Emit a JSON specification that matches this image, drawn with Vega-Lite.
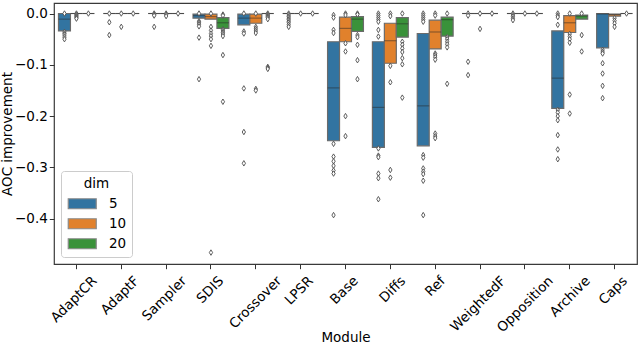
{
  "$schema": "https://vega.github.io/schema/vega-lite/v6.json",
  "width": 583,
  "height": 261,
  "autosize": {"type": "none"},
  "padding": {"left": 54, "top": 3, "right": 3, "bottom": 80},
  "background": "white",
  "config": {
    "font": "DejaVu Sans",
    "view": {"stroke": "#3a3a3a", "strokeWidth": 1.2},
    "axis": {
      "labelFont": "DejaVu Sans", "titleFont": "DejaVu Sans",
      "labelFontSize": 13.5, "titleFontSize": 13.5,
      "labelColor": "#000000", "titleColor": "#000000", "titleFontWeight": "normal",
      "grid": false, "domain": false, "tickColor": "#333333", "tickSize": 4.7, "tickWidth": 1, "labelPadding": 2
    },
    "legend": {
      "orient": "bottom-left", "offset": 7,
      "titleFont": "DejaVu Sans", "labelFont": "DejaVu Sans",
      "titleFontSize": 13.5, "labelFontSize": 13.5, "titleFontWeight": "normal",
      "titleColor": "#000000", "labelColor": "#000000",
      "titleAnchor": "middle", "titlePadding": 7, "padding": 5.5,
      "strokeColor": "#cccccc", "fillColor": "rgba(255,255,255,0.8)", "cornerRadius": 3,
      "symbolType": "M-1,-1H4.6V1H-1Z", "symbolSize": 100,
      "symbolStrokeColor": "#8a8a8a", "symbolStrokeWidth": 1.2,
      "labelOffset": 29, "rowPadding": 4
    }
  },
  "datasets": {
    "boxes": [
      {"module": "AdaptCR", "dim": "5", "upper": 0, "median": -0.011, "lower": -0.034},
      {"module": "AdaptCR", "dim": "10", "upper": 0, "median": 0, "lower": 0},
      {"module": "AdaptCR", "dim": "20", "upper": 0, "median": 0, "lower": 0},
      {"module": "AdaptF", "dim": "5", "upper": 0, "median": 0, "lower": 0},
      {"module": "AdaptF", "dim": "10", "upper": 0, "median": 0, "lower": 0},
      {"module": "AdaptF", "dim": "20", "upper": 0, "median": 0, "lower": 0},
      {"module": "Sampler", "dim": "5", "upper": 0, "median": 0, "lower": 0},
      {"module": "Sampler", "dim": "10", "upper": 0, "median": 0, "lower": 0},
      {"module": "Sampler", "dim": "20", "upper": 0, "median": 0, "lower": 0},
      {"module": "SDIS", "dim": "5", "upper": -0.001, "median": -0.004, "lower": -0.009},
      {"module": "SDIS", "dim": "10", "upper": -0.001, "median": -0.006, "lower": -0.011},
      {"module": "SDIS", "dim": "20", "upper": -0.008, "median": -0.018, "lower": -0.029},
      {"module": "Crossover", "dim": "5", "upper": -0.001, "median": -0.009, "lower": -0.022},
      {"module": "Crossover", "dim": "10", "upper": -0.001, "median": -0.009, "lower": -0.019},
      {"module": "Crossover", "dim": "20", "upper": 0, "median": 0, "lower": 0},
      {"module": "LPSR", "dim": "5", "upper": 0, "median": 0, "lower": 0},
      {"module": "LPSR", "dim": "10", "upper": 0, "median": 0, "lower": 0},
      {"module": "LPSR", "dim": "20", "upper": 0, "median": 0, "lower": 0},
      {"module": "Base", "dim": "5", "upper": -0.055, "median": -0.145, "lower": -0.248},
      {"module": "Base", "dim": "10", "upper": -0.007, "median": -0.029, "lower": -0.055},
      {"module": "Base", "dim": "20", "upper": -0.006, "median": -0.011, "lower": -0.035},
      {"module": "Diffs", "dim": "5", "upper": -0.055, "median": -0.183, "lower": -0.261},
      {"module": "Diffs", "dim": "10", "upper": -0.019, "median": -0.053, "lower": -0.097},
      {"module": "Diffs", "dim": "20", "upper": -0.008, "median": -0.020, "lower": -0.046},
      {"module": "Ref", "dim": "5", "upper": -0.039, "median": -0.180, "lower": -0.258},
      {"module": "Ref", "dim": "10", "upper": -0.013, "median": -0.036, "lower": -0.069},
      {"module": "Ref", "dim": "20", "upper": -0.007, "median": -0.012, "lower": -0.044},
      {"module": "WeightedF", "dim": "5", "upper": 0, "median": 0, "lower": 0},
      {"module": "WeightedF", "dim": "10", "upper": 0, "median": 0, "lower": 0},
      {"module": "WeightedF", "dim": "20", "upper": 0, "median": 0, "lower": 0},
      {"module": "Opposition", "dim": "5", "upper": 0, "median": 0, "lower": 0},
      {"module": "Opposition", "dim": "10", "upper": 0, "median": 0, "lower": 0},
      {"module": "Opposition", "dim": "20", "upper": 0, "median": 0, "lower": 0},
      {"module": "Archive", "dim": "5", "upper": -0.034, "median": -0.126, "lower": -0.185},
      {"module": "Archive", "dim": "10", "upper": -0.004, "median": -0.018, "lower": -0.037},
      {"module": "Archive", "dim": "20", "upper": -0.003, "median": -0.005, "lower": -0.011},
      {"module": "Caps", "dim": "5", "upper": 0, "median": -0.001, "lower": -0.067},
      {"module": "Caps", "dim": "10", "upper": -0.001, "median": -0.002, "lower": -0.005},
      {"module": "Caps", "dim": "20", "upper": 0, "median": 0, "lower": 0}
    ],
    "outliers": [
      {"module": "AdaptCR", "dim": "5", "value": 0}, {"module": "AdaptCR", "dim": "5", "value": -0.036}, {"module": "AdaptCR", "dim": "5", "value": -0.039}, {"module": "AdaptCR", "dim": "5", "value": -0.042}, {"module": "AdaptCR", "dim": "5", "value": -0.046}, {"module": "AdaptCR", "dim": "5", "value": -0.050},
      {"module": "AdaptCR", "dim": "10", "value": 0}, {"module": "AdaptCR", "dim": "10", "value": -0.002}, {"module": "AdaptCR", "dim": "10", "value": -0.004}, {"module": "AdaptCR", "dim": "10", "value": -0.006}, {"module": "AdaptCR", "dim": "10", "value": -0.008}, {"module": "AdaptCR", "dim": "10", "value": -0.010},
      {"module": "AdaptCR", "dim": "20", "value": 0},
      {"module": "AdaptF", "dim": "5", "value": 0}, {"module": "AdaptF", "dim": "5", "value": -0.017}, {"module": "AdaptF", "dim": "5", "value": -0.042},
      {"module": "AdaptF", "dim": "10", "value": 0}, {"module": "AdaptF", "dim": "10", "value": -0.026},
      {"module": "AdaptF", "dim": "20", "value": 0},
      {"module": "Sampler", "dim": "5", "value": 0}, {"module": "Sampler", "dim": "5", "value": -0.002}, {"module": "Sampler", "dim": "5", "value": -0.004}, {"module": "Sampler", "dim": "5", "value": -0.026},
      {"module": "Sampler", "dim": "10", "value": 0}, {"module": "Sampler", "dim": "10", "value": -0.002}, {"module": "Sampler", "dim": "10", "value": -0.005},
      {"module": "Sampler", "dim": "20", "value": 0},
      {"module": "SDIS", "dim": "5", "value": 0}, {"module": "SDIS", "dim": "5", "value": -0.015}, {"module": "SDIS", "dim": "5", "value": -0.018}, {"module": "SDIS", "dim": "5", "value": -0.021}, {"module": "SDIS", "dim": "5", "value": -0.025}, {"module": "SDIS", "dim": "5", "value": -0.047}, {"module": "SDIS", "dim": "5", "value": -0.128},
      {"module": "SDIS", "dim": "10", "value": 0}, {"module": "SDIS", "dim": "10", "value": -0.026}, {"module": "SDIS", "dim": "10", "value": -0.033}, {"module": "SDIS", "dim": "10", "value": -0.039}, {"module": "SDIS", "dim": "10", "value": -0.044}, {"module": "SDIS", "dim": "10", "value": -0.050}, {"module": "SDIS", "dim": "10", "value": -0.063}, {"module": "SDIS", "dim": "10", "value": -0.466},
      {"module": "SDIS", "dim": "20", "value": -0.002}, {"module": "SDIS", "dim": "20", "value": -0.004}, {"module": "SDIS", "dim": "20", "value": -0.031}, {"module": "SDIS", "dim": "20", "value": -0.034}, {"module": "SDIS", "dim": "20", "value": -0.037}, {"module": "SDIS", "dim": "20", "value": -0.040}, {"module": "SDIS", "dim": "20", "value": -0.044}, {"module": "SDIS", "dim": "20", "value": -0.081}, {"module": "SDIS", "dim": "20", "value": -0.172},
      {"module": "Crossover", "dim": "5", "value": 0}, {"module": "Crossover", "dim": "5", "value": -0.035}, {"module": "Crossover", "dim": "5", "value": -0.039}, {"module": "Crossover", "dim": "5", "value": -0.146}, {"module": "Crossover", "dim": "5", "value": -0.231}, {"module": "Crossover", "dim": "5", "value": -0.292},
      {"module": "Crossover", "dim": "10", "value": 0}, {"module": "Crossover", "dim": "10", "value": -0.026}, {"module": "Crossover", "dim": "10", "value": -0.030}, {"module": "Crossover", "dim": "10", "value": -0.034}, {"module": "Crossover", "dim": "10", "value": -0.038}, {"module": "Crossover", "dim": "10", "value": -0.147}, {"module": "Crossover", "dim": "10", "value": -0.150},
      {"module": "Crossover", "dim": "20", "value": 0}, {"module": "Crossover", "dim": "20", "value": -0.002}, {"module": "Crossover", "dim": "20", "value": -0.004}, {"module": "Crossover", "dim": "20", "value": -0.006}, {"module": "Crossover", "dim": "20", "value": -0.008}, {"module": "Crossover", "dim": "20", "value": -0.011}, {"module": "Crossover", "dim": "20", "value": -0.104}, {"module": "Crossover", "dim": "20", "value": -0.106}, {"module": "Crossover", "dim": "20", "value": -0.108},
      {"module": "LPSR", "dim": "5", "value": 0}, {"module": "LPSR", "dim": "5", "value": -0.003}, {"module": "LPSR", "dim": "5", "value": -0.006}, {"module": "LPSR", "dim": "5", "value": -0.009}, {"module": "LPSR", "dim": "5", "value": -0.012}, {"module": "LPSR", "dim": "5", "value": -0.015}, {"module": "LPSR", "dim": "5", "value": -0.018}, {"module": "LPSR", "dim": "5", "value": -0.022}, {"module": "LPSR", "dim": "5", "value": -0.026},
      {"module": "LPSR", "dim": "10", "value": 0},
      {"module": "LPSR", "dim": "20", "value": 0},
      {"module": "Base", "dim": "5", "value": -0.003}, {"module": "Base", "dim": "5", "value": -0.008}, {"module": "Base", "dim": "5", "value": -0.032}, {"module": "Base", "dim": "5", "value": -0.038}, {"module": "Base", "dim": "5", "value": -0.254}, {"module": "Base", "dim": "5", "value": -0.279}, {"module": "Base", "dim": "5", "value": -0.288}, {"module": "Base", "dim": "5", "value": -0.297}, {"module": "Base", "dim": "5", "value": -0.306}, {"module": "Base", "dim": "5", "value": -0.312}, {"module": "Base", "dim": "5", "value": -0.393},
      {"module": "Base", "dim": "10", "value": 0}, {"module": "Base", "dim": "10", "value": -0.003}, {"module": "Base", "dim": "10", "value": -0.058}, {"module": "Base", "dim": "10", "value": -0.074}, {"module": "Base", "dim": "10", "value": -0.200}, {"module": "Base", "dim": "10", "value": -0.239},
      {"module": "Base", "dim": "20", "value": 0}, {"module": "Base", "dim": "20", "value": -0.002}, {"module": "Base", "dim": "20", "value": -0.042}, {"module": "Base", "dim": "20", "value": -0.046}, {"module": "Base", "dim": "20", "value": -0.061}, {"module": "Base", "dim": "20", "value": -0.091}, {"module": "Base", "dim": "20", "value": -0.128},
      {"module": "Diffs", "dim": "5", "value": 0}, {"module": "Diffs", "dim": "5", "value": -0.004}, {"module": "Diffs", "dim": "5", "value": -0.008}, {"module": "Diffs", "dim": "5", "value": -0.012}, {"module": "Diffs", "dim": "5", "value": -0.016}, {"module": "Diffs", "dim": "5", "value": -0.032}, {"module": "Diffs", "dim": "5", "value": -0.045}, {"module": "Diffs", "dim": "5", "value": -0.263}, {"module": "Diffs", "dim": "5", "value": -0.277}, {"module": "Diffs", "dim": "5", "value": -0.280}, {"module": "Diffs", "dim": "5", "value": -0.312}, {"module": "Diffs", "dim": "5", "value": -0.321}, {"module": "Diffs", "dim": "5", "value": -0.362},
      {"module": "Diffs", "dim": "10", "value": 0}, {"module": "Diffs", "dim": "10", "value": -0.005}, {"module": "Diffs", "dim": "10", "value": -0.102}, {"module": "Diffs", "dim": "10", "value": -0.134}, {"module": "Diffs", "dim": "10", "value": -0.305}, {"module": "Diffs", "dim": "10", "value": -0.320},
      {"module": "Diffs", "dim": "20", "value": 0}, {"module": "Diffs", "dim": "20", "value": -0.055}, {"module": "Diffs", "dim": "20", "value": -0.061}, {"module": "Diffs", "dim": "20", "value": -0.068}, {"module": "Diffs", "dim": "20", "value": -0.075}, {"module": "Diffs", "dim": "20", "value": -0.087}, {"module": "Diffs", "dim": "20", "value": -0.099}, {"module": "Diffs", "dim": "20", "value": -0.164},
      {"module": "Ref", "dim": "5", "value": 0}, {"module": "Ref", "dim": "5", "value": -0.004}, {"module": "Ref", "dim": "5", "value": -0.008}, {"module": "Ref", "dim": "5", "value": -0.012}, {"module": "Ref", "dim": "5", "value": -0.016}, {"module": "Ref", "dim": "5", "value": -0.276}, {"module": "Ref", "dim": "5", "value": -0.281}, {"module": "Ref", "dim": "5", "value": -0.302}, {"module": "Ref", "dim": "5", "value": -0.308}, {"module": "Ref", "dim": "5", "value": -0.313}, {"module": "Ref", "dim": "5", "value": -0.326}, {"module": "Ref", "dim": "5", "value": -0.393},
      {"module": "Ref", "dim": "10", "value": 0}, {"module": "Ref", "dim": "10", "value": -0.004}, {"module": "Ref", "dim": "10", "value": -0.078}, {"module": "Ref", "dim": "10", "value": -0.081}, {"module": "Ref", "dim": "10", "value": -0.085}, {"module": "Ref", "dim": "10", "value": -0.090}, {"module": "Ref", "dim": "10", "value": -0.234}, {"module": "Ref", "dim": "10", "value": -0.239}, {"module": "Ref", "dim": "10", "value": -0.243},
      {"module": "Ref", "dim": "20", "value": 0}, {"module": "Ref", "dim": "20", "value": -0.046}, {"module": "Ref", "dim": "20", "value": -0.050}, {"module": "Ref", "dim": "20", "value": -0.055}, {"module": "Ref", "dim": "20", "value": -0.060}, {"module": "Ref", "dim": "20", "value": -0.066}, {"module": "Ref", "dim": "20", "value": -0.137},
      {"module": "WeightedF", "dim": "5", "value": 0}, {"module": "WeightedF", "dim": "5", "value": -0.004}, {"module": "WeightedF", "dim": "5", "value": -0.094}, {"module": "WeightedF", "dim": "5", "value": -0.120},
      {"module": "WeightedF", "dim": "10", "value": 0}, {"module": "WeightedF", "dim": "10", "value": -0.030},
      {"module": "WeightedF", "dim": "20", "value": 0},
      {"module": "Opposition", "dim": "5", "value": 0}, {"module": "Opposition", "dim": "5", "value": -0.003}, {"module": "Opposition", "dim": "5", "value": -0.006}, {"module": "Opposition", "dim": "5", "value": -0.010}, {"module": "Opposition", "dim": "5", "value": -0.013},
      {"module": "Opposition", "dim": "10", "value": 0},
      {"module": "Opposition", "dim": "20", "value": 0},
      {"module": "Archive", "dim": "5", "value": 0}, {"module": "Archive", "dim": "5", "value": -0.004}, {"module": "Archive", "dim": "5", "value": -0.007}, {"module": "Archive", "dim": "5", "value": -0.022}, {"module": "Archive", "dim": "5", "value": -0.188}, {"module": "Archive", "dim": "5", "value": -0.193}, {"module": "Archive", "dim": "5", "value": -0.200}, {"module": "Archive", "dim": "5", "value": -0.208}, {"module": "Archive", "dim": "5", "value": -0.237}, {"module": "Archive", "dim": "5", "value": -0.265}, {"module": "Archive", "dim": "5", "value": -0.284},
      {"module": "Archive", "dim": "10", "value": 0}, {"module": "Archive", "dim": "10", "value": -0.040}, {"module": "Archive", "dim": "10", "value": -0.045}, {"module": "Archive", "dim": "10", "value": -0.050}, {"module": "Archive", "dim": "10", "value": -0.057}, {"module": "Archive", "dim": "10", "value": -0.158}, {"module": "Archive", "dim": "10", "value": -0.195},
      {"module": "Archive", "dim": "20", "value": 0}, {"module": "Archive", "dim": "20", "value": -0.042}, {"module": "Archive", "dim": "20", "value": -0.074},
      {"module": "Caps", "dim": "5", "value": -0.071}, {"module": "Caps", "dim": "5", "value": -0.075}, {"module": "Caps", "dim": "5", "value": -0.078}, {"module": "Caps", "dim": "5", "value": -0.097}, {"module": "Caps", "dim": "5", "value": -0.117}, {"module": "Caps", "dim": "5", "value": -0.141}, {"module": "Caps", "dim": "5", "value": -0.165},
      {"module": "Caps", "dim": "10", "value": -0.009}, {"module": "Caps", "dim": "10", "value": -0.014}, {"module": "Caps", "dim": "10", "value": -0.019}, {"module": "Caps", "dim": "10", "value": -0.026},
      {"module": "Caps", "dim": "20", "value": 0}
    ]
  },
  "encoding": {
    "x": {
      "field": "module", "type": "nominal",
      "sort": ["AdaptCR", "AdaptF", "Sampler", "SDIS", "Crossover", "LPSR", "Base", "Diffs", "Ref", "WeightedF", "Opposition", "Archive", "Caps"],
      "scale": {"type": "band", "paddingInner": 0.2, "paddingOuter": 0.1},
      "axis": {
        "title": "Module", "labelAngle": -45, "labelAlign": "right", "labelBaseline": "top",
        "labelPadding": 4.7, "titleBaseline": "alphabetic", "titleY": 77,
        "labelOffset": {"expr": "(length(datum.label)*7.4-14)*0.354"}
      }
    },
    "xOffset": {
      "field": "dim", "type": "nominal",
      "scale": {"domain": ["5", "10", "20"], "paddingInner": 0, "paddingOuter": 0}
    }
  },
  "layer": [
    {
      "data": {"name": "boxes"},
      "mark": {"type": "bar", "stroke": "#6b6b6b", "strokeWidth": 1.2},
      "encoding": {
        "y": {
          "field": "lower", "type": "quantitative",
          "scale": {"domain": [-0.4883, 0.0205], "nice": false, "zero": false},
          "axis": {"title": "AOC improvement", "values": [0, -0.1, -0.2, -0.3, -0.4], "format": ".1f", "titlePadding": 0}
        },
        "y2": {"field": "upper"},
        "color": {
          "field": "dim", "type": "nominal", "title": "dim",
          "scale": {"domain": ["5", "10", "20"], "range": ["#3274a1", "#e1812c", "#3a923a"]}
        }
      }
    },
    {
      "data": {"name": "boxes"},
      "mark": {"type": "tick", "color": "#262626", "opacity": 0.45, "thickness": 1.2, "size": 12},
      "encoding": {
        "y": {"field": "median", "type": "quantitative"}
      }
    },
    {
      "data": {"name": "outliers"},
      "mark": {"type": "point", "shape": "M0,-1L0.6,0L0,1L-0.6,0Z", "size": 30, "filled": true, "fill": "white", "stroke": "#4d4d4d", "strokeWidth": 0.9, "opacity": 1},
      "encoding": {
        "y": {"field": "value", "type": "quantitative"}
      }
    }
  ]
}
